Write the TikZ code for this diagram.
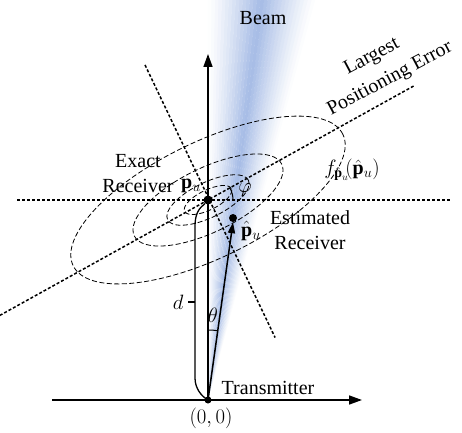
\documentclass[tikz,border=0pt]{standalone}
\usepackage{fontspec}
\setmainfont{Liberation Serif}
\usetikzlibrary{arrows.meta}
\definecolor{beamblue}{RGB}{140,168,222}

\begin{document}
\begin{tikzpicture}[x=1pt,y=1pt,font=\fontsize{20}{23}\selectfont]
        \tikzstyle{axis}=[line width=1.6pt,-{Triangle[length=13pt,width=9pt]}]
        \tikzstyle{guide}=[line width=1.5pt,dash pattern=on 3pt off 2pt]
        \tikzstyle{contour}=[line width=0.8pt,dash pattern=on 5pt off 2.5pt]
        \tikzstyle{dot}=[circle,fill=black,inner sep=0pt,minimum size=9pt]
        \tikzstyle{anglearc}=[line width=1pt]
        \useasboundingbox (0,0) rectangle (462,432);
       \begin{scope}
         \coordinate (O) at (208,32);
         % beam
         \clip (0,0) rectangle (462,432);
         \foreach \k in {0,...,29} {
           \pgfmathsetmacro\beamang{75+\k*0.5}
           \pgfmathsetmacro\beamk{78*max(0,1-abs(\beamang+0.25-82.4)/7.6)^1.2}
           \fill[beamblue!\beamk] (O) -- +(\beamang:440) -- +(\beamang+0.55:440) -- cycle;
         }
       \end{scope}
       \begin{scope}
         \coordinate (O) at (208,32);
         \node [dot] (P) at (208,232) {};
         \node [dot,minimum size=8pt] (Q) at (233,214) {};
         \node [dot,minimum size=7pt] (Odot) at (O) {};
         \coordinate (xstart) at (52,32);
         \coordinate (xend) at (362,32);
         \coordinate (yend) at (208,378);
         \coordinate (hl) at (17,232);
         \coordinate (hr) at (450,232);
         \path (P) +(209:238) coordinate (errlo) +(29:236) coordinate (errhi);
         \path (P) +(115:149) coordinate (perphi) +(-64:153) coordinate (perplo);
         \coordinate (dlow) at (195,54);
         \coordinate (dhigh) at (195,206);
         \coordinate (dtick) at (195,130);
         % contours
         \draw[contour,rotate around={26:(P)}] (P) ellipse (150 and 58);
         \draw[contour,rotate around={26:(P)}] (P) ellipse (82 and 32);
         \draw[contour,rotate around={26:(P)}] (P) ellipse (45 and 17.5);
         \draw[contour,rotate around={26:(P)}] (P) ellipse (26 and 10);
         % guides
         \draw[guide] (hl) -- (hr);
         \draw[guide] (errlo) -- (errhi);
         \draw[guide] (perphi) -- (perplo);
         % axes
         \draw[axis] (xstart) -- (xend);
         \draw[axis] (O) -- (yend);
         \draw[line width=1.5pt,-{Triangle[length=11pt,width=7pt]}] (O) -- (Q.south);
         % distance
         \draw[line width=1.3pt] (O) .. controls (201,36) and (195,44) .. (dlow) -- (dhigh)
              .. controls (195,218) and (199,224) .. (P.230);
         \draw[line width=1.3pt] (dtick) -- ++(-7,0) node[left,inner sep=4pt] (dlbl) {$d$};
         % angles
         \draw[anglearc] (O) ++(90:70) arc (90:82:70);
         \draw[anglearc] (P) ++(0:25) arc (0:29:25);
         \node (theta) at (213,117) {$\theta$};
         \node (phi) at (245,242) {$\varphi$};
         % labels
         \node (beamlbl) at (263,414) {Beam};
         \node[rotate=28,inner sep=1pt] (largest) at (372,375) {Largest};
         \node[rotate=28,inner sep=1pt] (poserr) at (390,353) {Positioning Error};
         \node (pdf) at (352,262) {$f_{\hat{\mathbf{p}}_u}\!\big(\hat{\mathbf{p}}_u\big)$};
         \node[align=center] (exact) at (138,258) {Exact\\[2pt]Receiver};
         \node (pu) at (191,246) {$\mathbf{p}_u$};
         \node (phat) at (251,201) {$\hat{\mathbf{p}}_u$};
         \node[align=center] (estim) at (310,202) {Estimated\\[2pt]Receiver};
         \node (tx) at (268,44) {Transmitter};
         \node (orig) at (211,14) {$(0,0)$};
        \end{scope}
      \end{tikzpicture}
\end{document}
